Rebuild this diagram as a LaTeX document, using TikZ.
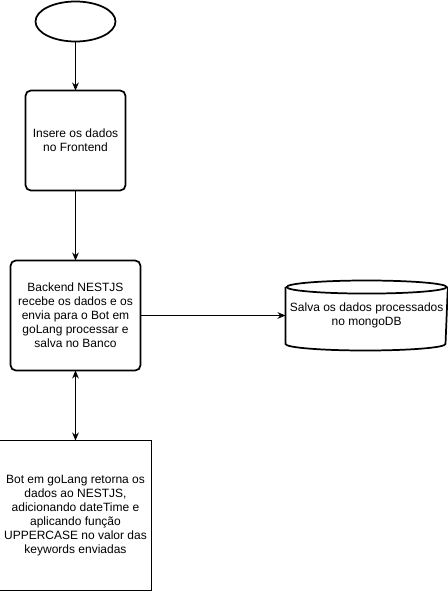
\documentclass[tikz,border=0pt]{standalone}
\usepackage{fontspec}
\setmainfont{Liberation Sans}
\usepackage{tikz}
\usetikzlibrary{arrows.meta, shapes.geometric, positioning, calc}

\begin{document}
\begin{tikzpicture}[x = 0.75pt, y = -0.75pt, font = \fontsize{9pt}{10.5pt}\selectfont, every node/.style = {outer sep = 0pt},
	etapa/.style = {draw, line width = 1.3pt, rounded corners = 4pt, align = center},
	seta/.style = {-{Stealth[length = 6pt, width = 5pt]}, semithick}]
		\useasboundingbox (0,0) rectangle (447,592);
		\node[draw, ellipse, line width = 1.3pt, minimum width = 60pt, minimum height = 30pt] (inicio) at (75.5,21.5) {};
		\node[etapa, minimum width = 75pt, minimum height = 75pt, below = 36.75pt of inicio] (front){Insere os dados \\ no Frontend};
		\node[etapa, minimum width = 97.5pt, minimum height = 82.5pt, below = 52.5pt of front] (back){Backend NESTJS \\ recebe os dados e os \\ envia para o Bot em \\ goLang processar e \\ salva no Banco};
		\node[minimum width = 120pt, minimum height = 52.5pt, align = center, right = 108.75pt of back] (banco){Salva os dados processados \\ no mongoDB};
		\node[draw, semithick, minimum width = 112.5pt, minimum height = 112.5pt, align = center, below = 52.5pt of back] (bot){Bot em goLang retorna os \\ dados ao NESTJS, \\ adicionando dateTime e \\ aplicando função \\ UPPERCASE no valor das \\ keywords enviadas};
		% cilindro do banco
		\draw[line width = 1.3pt] ([yshift = -4.9pt]banco.north west) -- ([yshift = 4.9pt]banco.south west)
			arc[start angle = 180, end angle = 360, x radius = 60pt, y radius = 4.9pt]
			-- ([yshift = -4.9pt]banco.north east);
		\draw[line width = 1.3pt] ([yshift = -4.9pt]banco.north) ellipse [x radius = 60pt, y radius = 4.9pt];
		\draw[seta] (inicio) -- (front);
		\draw[seta] (front) -- (back);
		\draw[seta] (back) -- (banco);
		\draw[seta, {Stealth[length = 6pt, width = 5pt]}-{Stealth[length = 6pt, width = 5pt]}] (back) -- (bot);
	\end{tikzpicture}
\end{document}
